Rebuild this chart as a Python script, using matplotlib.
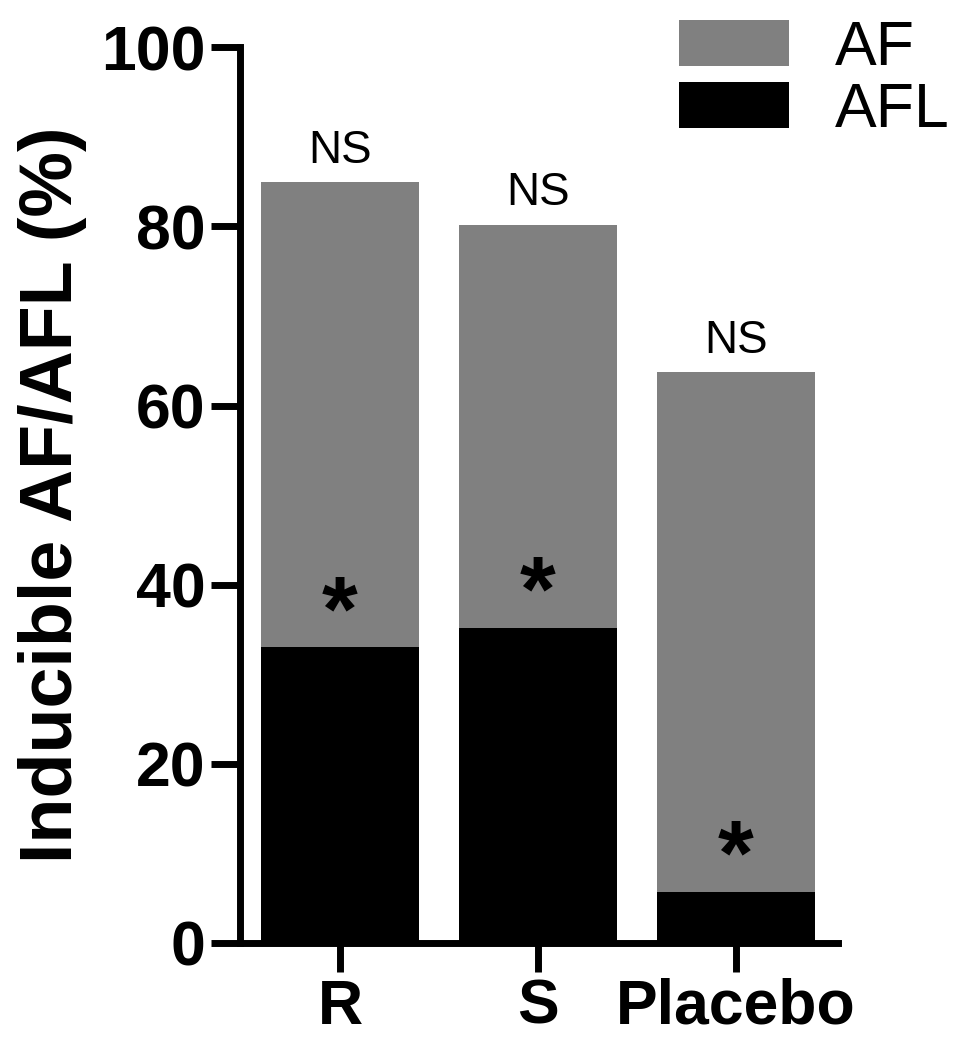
import numpy as np
import matplotlib
matplotlib.use('Agg')
import matplotlib.pyplot as plt

# groups and values (percent)
groups = ['R', 'S', 'Placebo']
af_total = [84.9, 80.2, 63.7]   # top of grey bar (AF)
afl = [33.0, 35.2, 5.7]         # black part (AFL)
yticks = [0, 20, 40, 60, 80, 100]

plt.rcParams['font.family'] = ['Liberation Sans', 'DejaVu Sans']

fig = plt.figure(figsize=(9.72, 10.5), dpi=100)
ax = fig.add_axes([0.247, 0.102, 0.615, 0.853])

x = np.arange(len(groups))
ax.bar(x, af_total, width=0.8, color='#808080', label='AF')
ax.bar(x, afl, width=0.8, color='black', label='AFL')

# annotations: NS over each bar, star over the AFL part
for xi, top, low in zip(x, af_total, afl):
    ax.text(xi, top + 1.1, 'NS', ha='center', va='bottom', fontsize=33)
    ax.text(xi, low - 1.3, '*', ha='center', va='bottom', fontsize=66, fontweight='bold')

ax.set_xlim(-0.505, 2.515)
ax.set_ylim(0, 100)
ax.set_yticks(yticks)
ax.set_xticks(x)
ax.set_xticklabels(groups)

for side in ['top', 'right']:
    ax.spines[side].set_visible(False)
for side in ['left', 'bottom']:
    ax.spines[side].set_linewidth(5)

ax.tick_params(axis='both', length=21, width=5, labelsize=45, pad=4)
for lab in ax.get_xticklabels() + ax.get_yticklabels():
    lab.set_fontweight('bold')

ax.set_ylabel('Inducible AF/AFL (%)', fontsize=53, fontweight='bold', labelpad=10)

leg = ax.legend(loc='upper left', bbox_to_anchor=(0.735, 1.032), frameon=False,
                fontsize=45, handlelength=1.75, handleheight=0.75,
                handletextpad=0.74, labelspacing=0.05, borderaxespad=0, borderpad=0)

fig.savefig('out.png', dpi=100)
